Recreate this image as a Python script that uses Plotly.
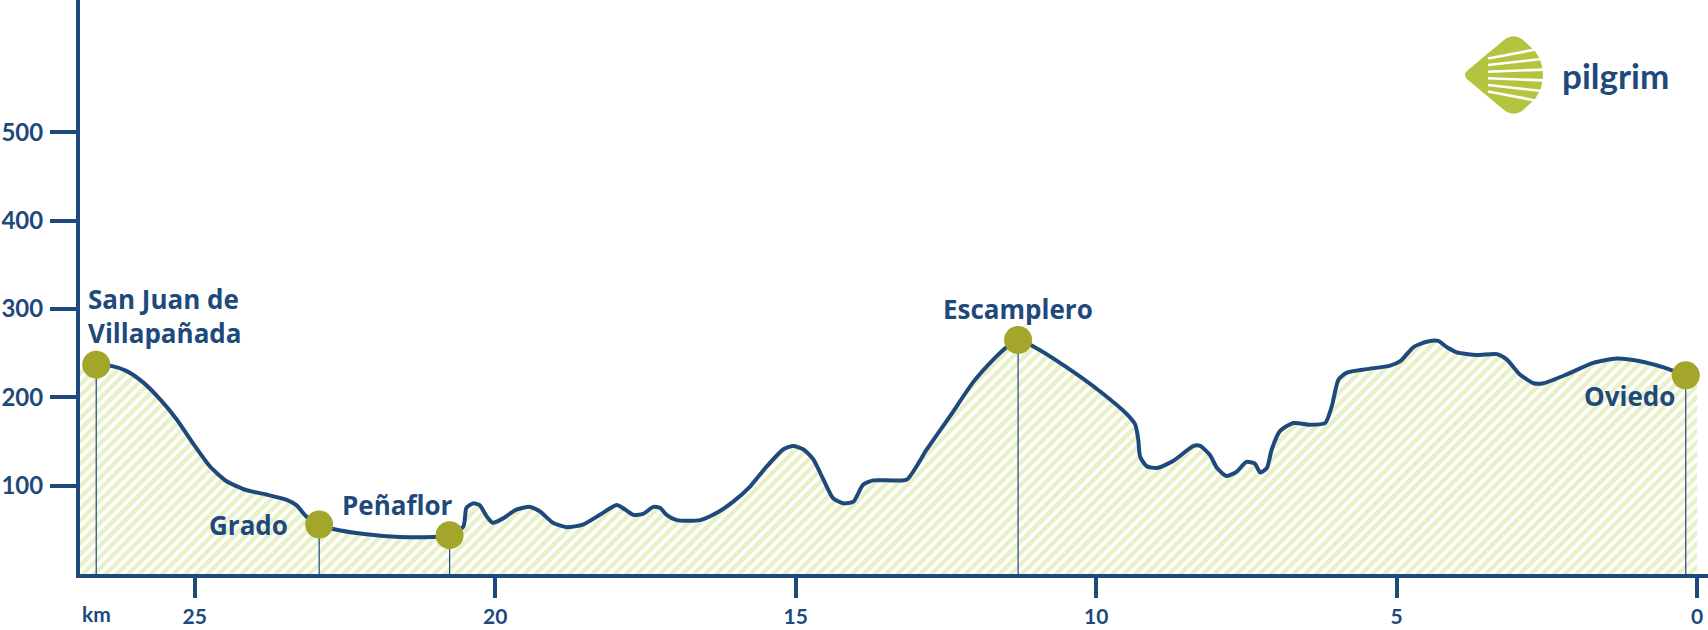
import plotly.graph_objects as go

# ---------------- data ----------------
km = [26.64, 26.41, 26.14, 25.86, 25.58, 25.30, 25.03, 24.75, 24.47, 24.14, 23.81, 23.47,
      23.31, 23.14, 22.93, 22.70, 22.14, 21.59, 21.03, 20.76, 20.53, 20.48, 20.37, 20.26,
      20.14, 20.04, 19.87, 19.65, 19.42, 19.26, 19.04, 18.81, 18.54, 18.26, 17.98, 17.84,
      17.70, 17.54, 17.37, 17.26, 17.15, 16.98, 16.59, 16.32, 16.04, 15.76, 15.48, 15.21,
      15.04, 14.87, 14.71, 14.54, 14.38, 14.21, 14.04, 13.88, 13.71, 13.38, 13.15, 12.82,
      12.43, 12.05, 11.71, 11.49, 11.30, 11.05, 10.49, 9.94, 9.49, 9.35, 9.30, 9.27, 9.16,
      8.99, 8.72, 8.38, 8.27, 8.11, 7.99, 7.83, 7.66, 7.50, 7.36, 7.27, 7.16, 7.08, 6.94,
      6.72, 6.44, 6.19, 6.08, 5.97, 5.83, 5.50, 5.11, 4.94, 4.72, 4.50, 4.31, 4.17, 4.00,
      3.67, 3.33, 3.17, 2.95, 2.72, 2.56, 2.17, 1.73, 1.34, 0.95, 0.56, 0.19]
elevation = [237, 236, 230, 217, 198, 175, 148, 122, 105, 95, 90, 84,
             78, 65, 56, 51, 45, 42, 42, 44, 54, 75, 80, 78,
             65, 58, 63, 73, 76, 71, 58, 53, 56, 67, 78, 73,
             67, 68, 76, 75, 67, 61, 61, 69, 82, 99, 122, 141,
             145, 141, 130, 107, 86, 80, 82, 101, 106, 106, 107, 141,
             179, 217, 243, 257, 265, 258, 234, 207, 181, 169, 152, 133, 122,
             120, 128, 145, 145, 135, 120, 111, 116, 127, 125, 115, 120, 141, 162,
             171, 169, 171, 190, 220, 228, 232, 236, 241, 257, 263, 264, 257, 251,
             248, 249, 243, 226, 216, 216, 226, 239, 244, 241, 234, 225]

# hatched area runs a little past the profile on both ends
fill_start_km, fill_start_elev = 26.91, 232
fill_end_km, fill_end_elev = 0.0, 215

stop_names = ["San Juan de<br>Villapañada", "Grado", "Peñaflor", "Escamplero", "Oviedo"]
stop_km = [26.64, 22.93, 20.76, 11.30, 0.19]
stop_elev = [237, 56, 44, 265, 225]

x_tickvals = [25, 20, 15, 10, 5, 0]
y_tickvals = [100, 200, 300, 400, 500]

# ---------------- style ----------------
NAVY = "#1e4a7b"
OLIVE = "#a3a62b"
HATCH = "#d2e192"
LOGO_GREEN = "#b3c43f"
FONT = "Open Sans"
TICKFONT = "Lato"

W, H = 1708, 630
L, R, T, B = 80, 0, 0, 56
PW, PH = W - L - R, H - T - B

# label placement (anchor, xshift, yshift) per stop
label_pos = [("left", -10, 49), ("right", -29, 0), ("right", 5, 30),
             ("center", 0, 31), ("right", -9, -21)]

fig = go.Figure()

fig.add_trace(go.Scatter(
    x=[fill_start_km] + km + [fill_end_km],
    y=[fill_start_elev] + elevation + [fill_end_elev],
    mode="lines", line=dict(width=0, shape="spline", smoothing=0.6),
    fill="tozeroy", fillcolor="rgba(0,0,0,0)",
    fillpattern=dict(shape="/", fgcolor=HATCH, bgcolor="white", size=8, solidity=0.55),
    hoverinfo="skip", showlegend=False))

for k, e in zip(stop_km, stop_elev):
    fig.add_trace(go.Scatter(x=[k, k], y=[0, e], mode="lines",
                             line=dict(color=NAVY, width=1.2),
                             hoverinfo="skip", showlegend=False))

fig.add_trace(go.Scatter(
    x=km, y=elevation, mode="lines",
    line=dict(color=NAVY, width=4, shape="spline", smoothing=0.6),
    showlegend=False))

fig.add_trace(go.Scatter(
    x=stop_km, y=stop_elev, mode="markers",
    marker=dict(size=28, color=OLIVE, line=dict(width=0)),
    showlegend=False, cliponaxis=False))

for name, k, e, (anc, xs, ys) in zip(stop_names, stop_km, stop_elev, label_pos):
    fig.add_annotation(x=k, y=e, xref="x", yref="y", text=name, showarrow=False,
                       xanchor=anc, yanchor="middle", xshift=xs, yshift=ys,
                       align="left",
                       font=dict(family=FONT, size=26, color=NAVY, weight=700))

# "km" unit label
fig.add_annotation(x=(96 - L) / PW, y=(PH - 613) / PH, xref="paper", yref="paper",
                   text="km", showarrow=False, xanchor="center", yanchor="middle",
                   font=dict(family=TICKFONT, size=21, color=NAVY, weight=700))

# ---------------- logo ----------------
def px(x):
    return (x - L) / PW

def py(y):
    return (PH - (y - T)) / PH

def path(cmds):
    out = []
    for c in cmds:
        if isinstance(c, str):
            out.append(c)
        else:
            out.append(f"{px(c[0]):.5f},{py(c[1]):.5f}")
    return " ".join(out)

shell = path(["M", (1468, 70), "L", (1504, 40), "Q", (1513, 33), (1522, 39),
              "L", (1535, 51), "Q", (1543, 62), (1543, 75), "Q", (1543, 88), (1535, 99),
              "L", (1522, 111), "Q", (1513, 117), (1504, 110), "L", (1468, 80),
              "Q", (1462, 75), (1468, 70), "Z"])
fig.add_shape(type="path", path=shell, xref="paper", yref="paper",
              fillcolor=LOGO_GREEN, line=dict(width=0), layer="above")
fx, fy = 1400, 75
for s in [-0.188, -0.113, -0.0376, 0.0376, 0.113, 0.188]:
    x0, x1 = 1488, 1550
    fig.add_shape(type="line", xref="paper", yref="paper",
                  x0=px(x0), y0=py(fy + s * (x0 - fx)), x1=px(x1), y1=py(fy + s * (x1 - fx)),
                  line=dict(color="white", width=2.6), layer="above")
fig.add_annotation(x=px(1615), y=py(75), xref="paper", yref="paper", text="pilgrim",
                   showarrow=False, xanchor="center", yanchor="middle",
                   font=dict(family=TICKFONT, size=35, color=NAVY, weight=700))

fig.update_layout(
    width=W, height=H, margin=dict(l=L, r=R, t=T, b=B),
    paper_bgcolor="white", plot_bgcolor="white",
    xaxis=dict(range=[26.91, -0.18], tickvals=x_tickvals,
               ticktext=[str(v) for v in x_tickvals],
               showline=True, linecolor=NAVY, linewidth=4,
               ticks="outside", ticklen=20, tickwidth=4, tickcolor=NAVY,
               showgrid=False, zeroline=False,
               tickfont=dict(family=TICKFONT, size=21, color=NAVY, weight=700),
               ticklabelstandoff=1),
    yaxis=dict(range=[0, 650], tickvals=y_tickvals,
               showline=True, linecolor=NAVY, linewidth=4,
               ticks="outside", ticklen=26, tickwidth=4, tickcolor=NAVY,
               showgrid=False, zeroline=False,
               tickfont=dict(family=TICKFONT, size=24, color=NAVY, weight=700),
               ticklabelstandoff=2),
)

fig.write_html("out.html", config={"displayModeBar": False},
               post_script="document.body.style.margin='0';document.body.style.overflow='hidden';")
